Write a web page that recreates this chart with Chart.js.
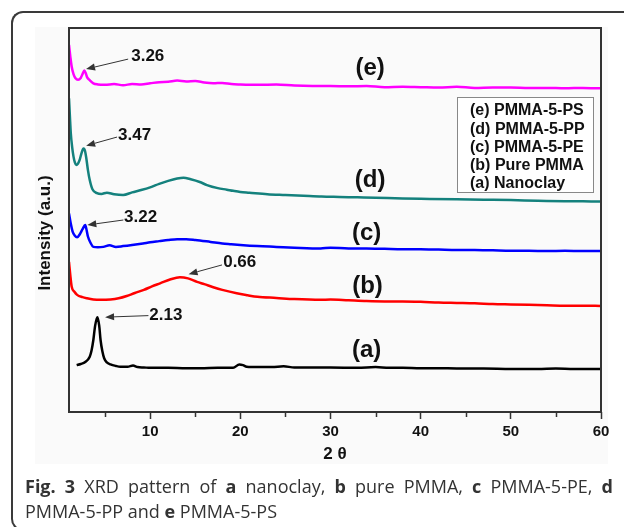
<!DOCTYPE html>
<html>
<head>
<meta charset="utf-8">
<script src="https://cdn.jsdelivr.net/npm/chart.js@4.4.1/dist/chart.umd.min.js"></script>
<style>
  html, body { margin: 0; padding: 0; background: #fff; overflow: hidden; }
  #page { position: relative; width: 624px; height: 527px; overflow: hidden; }
  #frame {
    position: absolute; left: 11px; top: 11px; width: 620px; height: 520px;
    border: 2px solid #3a3a3a; border-right: none; border-radius: 12px 0 0 12px; box-sizing: border-box;
  }
  #figbg { position: absolute; left: 35px; top: 27px; width: 573px; height: 437px; background: #fafafa; }
  #grafico { position: absolute; left: 0; top: 0; }
  #caption {
    position: absolute; left: 25px; top: 474px; width: 588px;
    font-family: "Open Sans", sans-serif; font-size: 18px; line-height: 25px; color: #333;
  }
  #caption .first { display: block; text-align: justify; text-align-last: justify; white-space: nowrap; }
  #caption .second { display: block; white-space: nowrap; }
</style>
</head>
<body>
<div id="page">
  <div id="frame"></div>
  <div id="figbg"></div>
  <canvas id="grafico" width="624" height="480"></canvas>
  <div id="caption"><span class="first"><b>Fig. 3</b> XRD pattern of <b>a</b> nanoclay, <b>b</b> pure PMMA, <b>c</b> PMMA-5-PE, <b>d</b></span><span class="second">PMMA-5-PP and <b>e</b> PMMA-5-PS</span></div>
</div>
<script>
// 2θ positions and intensities (a.u., stacked offsets) for each sample
const nanoclayX = [1.85, 2.3, 2.8, 3.3, 3.5, 3.7, 3.9, 4.15, 4.35, 4.5, 4.7, 4.9, 5.2, 5.6, 6.2, 6.7, 7.5, 8.1, 8.6, 9.3, 10, 12, 14, 15.6, 17.5, 19.2, 19.9, 20.3, 20.7, 22, 23.5, 24.8, 26, 28, 30, 33, 35, 36.5, 38, 40, 43, 45, 47, 50, 53, 55, 57, 60];
const nanoclayY = [12.2, 12.5, 13.0, 14.4, 16.0, 18.75, 22.5, 24.7, 22.5, 18.75, 15.8, 14.0, 12.9, 12.4, 12.0, 11.8, 11.8, 12.1, 11.7, 11.6, 11.5, 11.5, 11.4, 11.4, 11.5, 11.5, 12.4, 12.2, 11.8, 11.7, 11.7, 11.9, 11.6, 11.6, 11.6, 11.5, 11.7, 11.5, 11.5, 11.4, 11.4, 11.3, 11.3, 11.2, 11.2, 11.3, 11.2, 11.2];

const pmmaX = [1.0, 1.15, 1.3, 1.6, 1.9, 2.5, 3.0, 3.7, 4.5, 5.6, 6.5, 7.4, 8.3, 9.3, 10.2, 11.1, 12.2, 13.3, 14.2, 15.2, 16, 17, 18, 19.6, 20.8, 21.9, 24, 26, 28.9, 30, 32, 34, 36, 38, 40, 42, 44, 46, 48, 50, 52, 54, 56, 58, 60];
const pmmaY = [39.1, 35.5, 32.6, 31.3, 30.5, 29.9, 29.6, 29.3, 29.2, 29.3, 29.6, 30.2, 31.0, 31.8, 32.7, 33.5, 34.5, 35.1, 34.8, 33.9, 33.3, 32.5, 31.8, 30.9, 30.4, 30.0, 29.7, 29.4, 29.2, 29.3, 29.1, 28.9, 28.8, 28.8, 28.7, 28.5, 28.4, 28.3, 28.1, 28.0, 27.9, 27.8, 27.7, 27.7, 27.6];

const peX = [1.0, 1.2, 1.4, 1.65, 1.9, 2.2, 2.5, 2.8, 2.95, 3.1, 3.4, 3.7, 4.2, 4.8, 5.5, 6.2, 7, 8, 9.2, 10, 11, 12, 13, 14, 15, 16.7, 18, 19, 20, 21.9, 24, 26, 28.9, 30, 32, 34, 36, 38, 40, 42, 44, 46, 48, 50, 52, 54, 56, 58, 60];
const peY = [51.7, 49.0, 47.0, 45.9, 45.5, 46.3, 47.6, 48.7, 47.4, 45.7, 44.0, 43.0, 42.9, 43.0, 43.4, 43.0, 43.2, 43.5, 43.9, 44.2, 44.5, 44.8, 45.0, 45.0, 44.8, 44.3, 43.9, 43.7, 43.5, 43.2, 43.0, 42.8, 42.6, 42.8, 42.6, 42.6, 42.5, 42.4, 42.4, 42.3, 42.2, 42.2, 42.1, 42.0, 42.0, 41.9, 42.0, 41.9, 41.9];

const ppX = [1.0, 1.1, 1.2, 1.35, 1.5, 1.65, 1.8, 2.0, 2.2, 2.4, 2.6, 2.75, 2.9, 3.1, 3.3, 3.6, 4.1, 4.6, 5.2, 6, 7, 8, 9, 10, 11, 12, 13, 13.7, 14.5, 15.5, 16.3, 17.5, 18.5, 19.2, 20, 21, 23, 25, 27, 29, 31, 33, 35, 38, 41, 44, 47, 50, 53, 56, 58, 60];
const ppY = [81.7, 77.0, 72.6, 69.0, 66.5, 65.0, 64.3, 64.7, 65.8, 67.5, 68.6, 68.2, 66.4, 63.0, 60.4, 58.0, 57.0, 56.8, 57.1, 56.7, 56.5, 57.2, 57.8, 58.5, 59.4, 60.2, 60.8, 61.0, 60.6, 59.9, 59.1, 58.3, 57.9, 57.6, 57.3, 57.1, 56.7, 56.5, 56.3, 56.1, 56.0, 55.9, 55.8, 55.6, 55.5, 55.4, 55.3, 55.2, 55.0, 54.9, 54.9, 54.8];

const psX = [1.0, 1.15, 1.3, 1.5, 1.7, 2.0, 2.3, 2.5, 2.7, 2.85, 3.0, 3.3, 3.7, 4.2, 5, 6, 7, 8, 9, 10, 11, 12, 13, 14, 15, 16, 17, 18, 19, 20, 22, 24, 26, 28, 30, 32, 34, 36, 38, 40, 42, 44, 46, 48, 50, 52, 54, 56, 58, 60];
const psY = [95.6, 92.5, 89.9, 88.0, 87.0, 86.5, 87.0, 88.0, 88.9, 88.3, 87.2, 86.4, 85.6, 85.3, 85.2, 85.4, 85.1, 85.4, 85.3, 85.6, 85.9, 86.0, 86.3, 86.1, 86.2, 85.8, 85.6, 85.7, 85.4, 85.3, 85.2, 85.3, 85.0, 84.9, 84.9, 84.8, 84.9, 84.6, 84.7, 84.6, 84.5, 84.7, 84.4, 84.5, 84.5, 84.4, 84.4, 84.3, 84.4, 84.3];

const seriesNames = ['(a) Nanoclay', '(b) Pure PMMA', '(c) PMMA-5-PE', '(d) PMMA-5-PP', '(e) PMMA-5-PS'];
const seriesColors = ['#000000', '#ff0000', '#0000ff', '#14817d', '#ff00ff'];

const xTicks = [10, 20, 30, 40, 50, 60];
const xMinorTicks = [5, 15, 25, 35, 45, 55];

// curve tags (a)...(e) next to each trace
const curveTags = ['(a)', '(b)', '(c)', '(d)', '(e)'];
const curveTagX = [34.0, 34.1, 34.0, 34.4, 34.4];
const curveTagY = [16.1, 32.8, 46.5, 60.4, 89.5];

// d-spacing callouts (nm) with arrows pointing at the peaks
const peakLabels = ['3.26', '3.47', '3.22', '0.66', '2.13'];
const peakLabelAt = [[7.9, 92.7], [6.44, 72.1], [7.1, 50.7], [18.1, 39.1], [9.9, 25.3]];
const peakArrowFrom = [[7.56, 91.9], [6.33, 71.6], [7.03, 50.0], [17.97, 38.3], [9.81, 25.1]];
const peakArrowTo = [[2.89, 89.3], [2.9, 69.35], [3.03, 48.7], [14.26, 35.9], [5.0, 24.7]];

const FONT = '"Liberation Sans", Arial, sans-serif';

const toPoints = (xs, ys) => xs.map((x, i) => ({ x: x, y: ys[i] }));
const allX = [nanoclayX, pmmaX, peX, ppX, psX];
const allY = [nanoclayY, pmmaY, peY, ppY, psY];

const datasets = allX.map((xs, i) => ({
  label: seriesNames[i],
  data: toPoints(xs, allY[i]),
  borderColor: seriesColors[i],
  borderWidth: 2.5,
  pointRadius: 0,
  cubicInterpolationMode: 'monotone',
  fill: false
}));

const drawArrow = (ctx, x1, y1, x2, y2) => {
  const ang = Math.atan2(y2 - y1, x2 - x1);
  const len = 9, half = 3.5;
  const bx = x2 - len * Math.cos(ang), by = y2 - len * Math.sin(ang);
  ctx.beginPath();
  ctx.moveTo(x1, y1);
  ctx.lineTo(bx, by);
  ctx.stroke();
  ctx.beginPath();
  ctx.moveTo(x2, y2);
  ctx.lineTo(bx + half * Math.sin(ang), by - half * Math.cos(ang));
  ctx.lineTo(bx - half * Math.sin(ang), by + half * Math.cos(ang));
  ctx.closePath();
  ctx.fill();
};

const extras = {
  id: 'xrdExtras',
  afterDraw(chart) {
    const { ctx, chartArea: ca, scales: { x, y } } = chart;
    ctx.save();

    // minor ticks
    ctx.strokeStyle = '#333';
    ctx.lineWidth = 1.5;
    xMinorTicks.forEach(v => {
      const px = Math.round(x.getPixelForValue(v)) + 0.5;
      ctx.beginPath();
      ctx.moveTo(px, ca.bottom);
      ctx.lineTo(px, ca.bottom + 5);
      ctx.stroke();
    });

    // box around the plot
    ctx.lineWidth = 2;
    ctx.strokeStyle = '#333';
    ctx.strokeRect(ca.left, ca.top, ca.right - ca.left, ca.bottom - ca.top);

    // y axis title
    ctx.fillStyle = '#111';
    ctx.font = 'bold 17px ' + FONT;
    ctx.textAlign = 'center';
    ctx.textBaseline = 'middle';
    ctx.translate(45, (ca.top + ca.bottom) / 2 + 13);
    ctx.rotate(-Math.PI / 2);
    ctx.fillText('Intensity (a.u.)', 0, 0);
    ctx.setTransform(1, 0, 0, 1, 0, 0);

    // arrows + d-spacing labels
    ctx.strokeStyle = '#333';
    ctx.fillStyle = '#333';
    ctx.lineWidth = 1;
    peakLabels.forEach((t, i) => {
      drawArrow(ctx,
        x.getPixelForValue(peakArrowFrom[i][0]), y.getPixelForValue(peakArrowFrom[i][1]),
        x.getPixelForValue(peakArrowTo[i][0]), y.getPixelForValue(peakArrowTo[i][1]));
    });
    ctx.fillStyle = '#111';
    ctx.font = 'bold 17px ' + FONT;
    ctx.textAlign = 'left';
    peakLabels.forEach((t, i) => {
      ctx.fillText(t, x.getPixelForValue(peakLabelAt[i][0]), y.getPixelForValue(peakLabelAt[i][1]));
    });

    // curve tags
    ctx.font = 'bold 24px ' + FONT;
    ctx.textAlign = 'center';
    curveTags.forEach((t, i) => {
      ctx.fillText(t, x.getPixelForValue(curveTagX[i]), y.getPixelForValue(curveTagY[i]));
    });

    // legend box, listed (e) down to (a)
    const lx = ca.right - 144, ly = ca.top + 69, lw = 136, lh = 95;
    ctx.fillStyle = '#fff';
    ctx.fillRect(lx, ly, lw, lh);
    ctx.strokeStyle = '#888';
    ctx.lineWidth = 1;
    ctx.strokeRect(lx + 0.5, ly + 0.5, lw, lh);
    ctx.fillStyle = '#111';
    ctx.font = 'bold 16px ' + FONT;
    ctx.textAlign = 'left';
    seriesNames.slice().reverse().forEach((name, i) => {
      ctx.fillText(name, lx + 13, ly + 14 + i * 18.1);
    });

    ctx.restore();
  }
};

new Chart(document.getElementById('grafico').getContext('2d'), {
  type: 'line',
  data: { datasets: datasets },
  options: {
    responsive: false,
    animation: false,
    devicePixelRatio: 1,
    layout: { padding: { left: 0, right: 23, top: 28, bottom: 0 } },
    plugins: { legend: { display: false }, tooltip: { enabled: false } },
    scales: {
      x: {
        type: 'linear',
        min: 1,
        max: 60,
        afterFit: s => { s.height = 68; },
        afterBuildTicks: s => { s.ticks = xTicks.map(v => ({ value: v })); },
        border: { display: false },
        grid: { drawOnChartArea: false, drawTicks: true, tickLength: 7, tickColor: '#333', tickWidth: 1.5 },
        ticks: { color: '#111', padding: 4, font: { family: FONT, size: 15, weight: 'bold' } },
        title: {
          display: true,
          text: '2 θ',
          color: '#111',
          font: { family: FONT, size: 17, weight: 'bold' },
          padding: { top: 0, bottom: 15 }
        }
      },
      y: {
        type: 'linear',
        min: 0,
        max: 100,
        afterFit: s => { s.width = 69; },
        border: { display: false },
        grid: { display: false },
        ticks: { display: false }
      }
    }
  },
  plugins: [extras]
});
</script>
</body>
</html>
